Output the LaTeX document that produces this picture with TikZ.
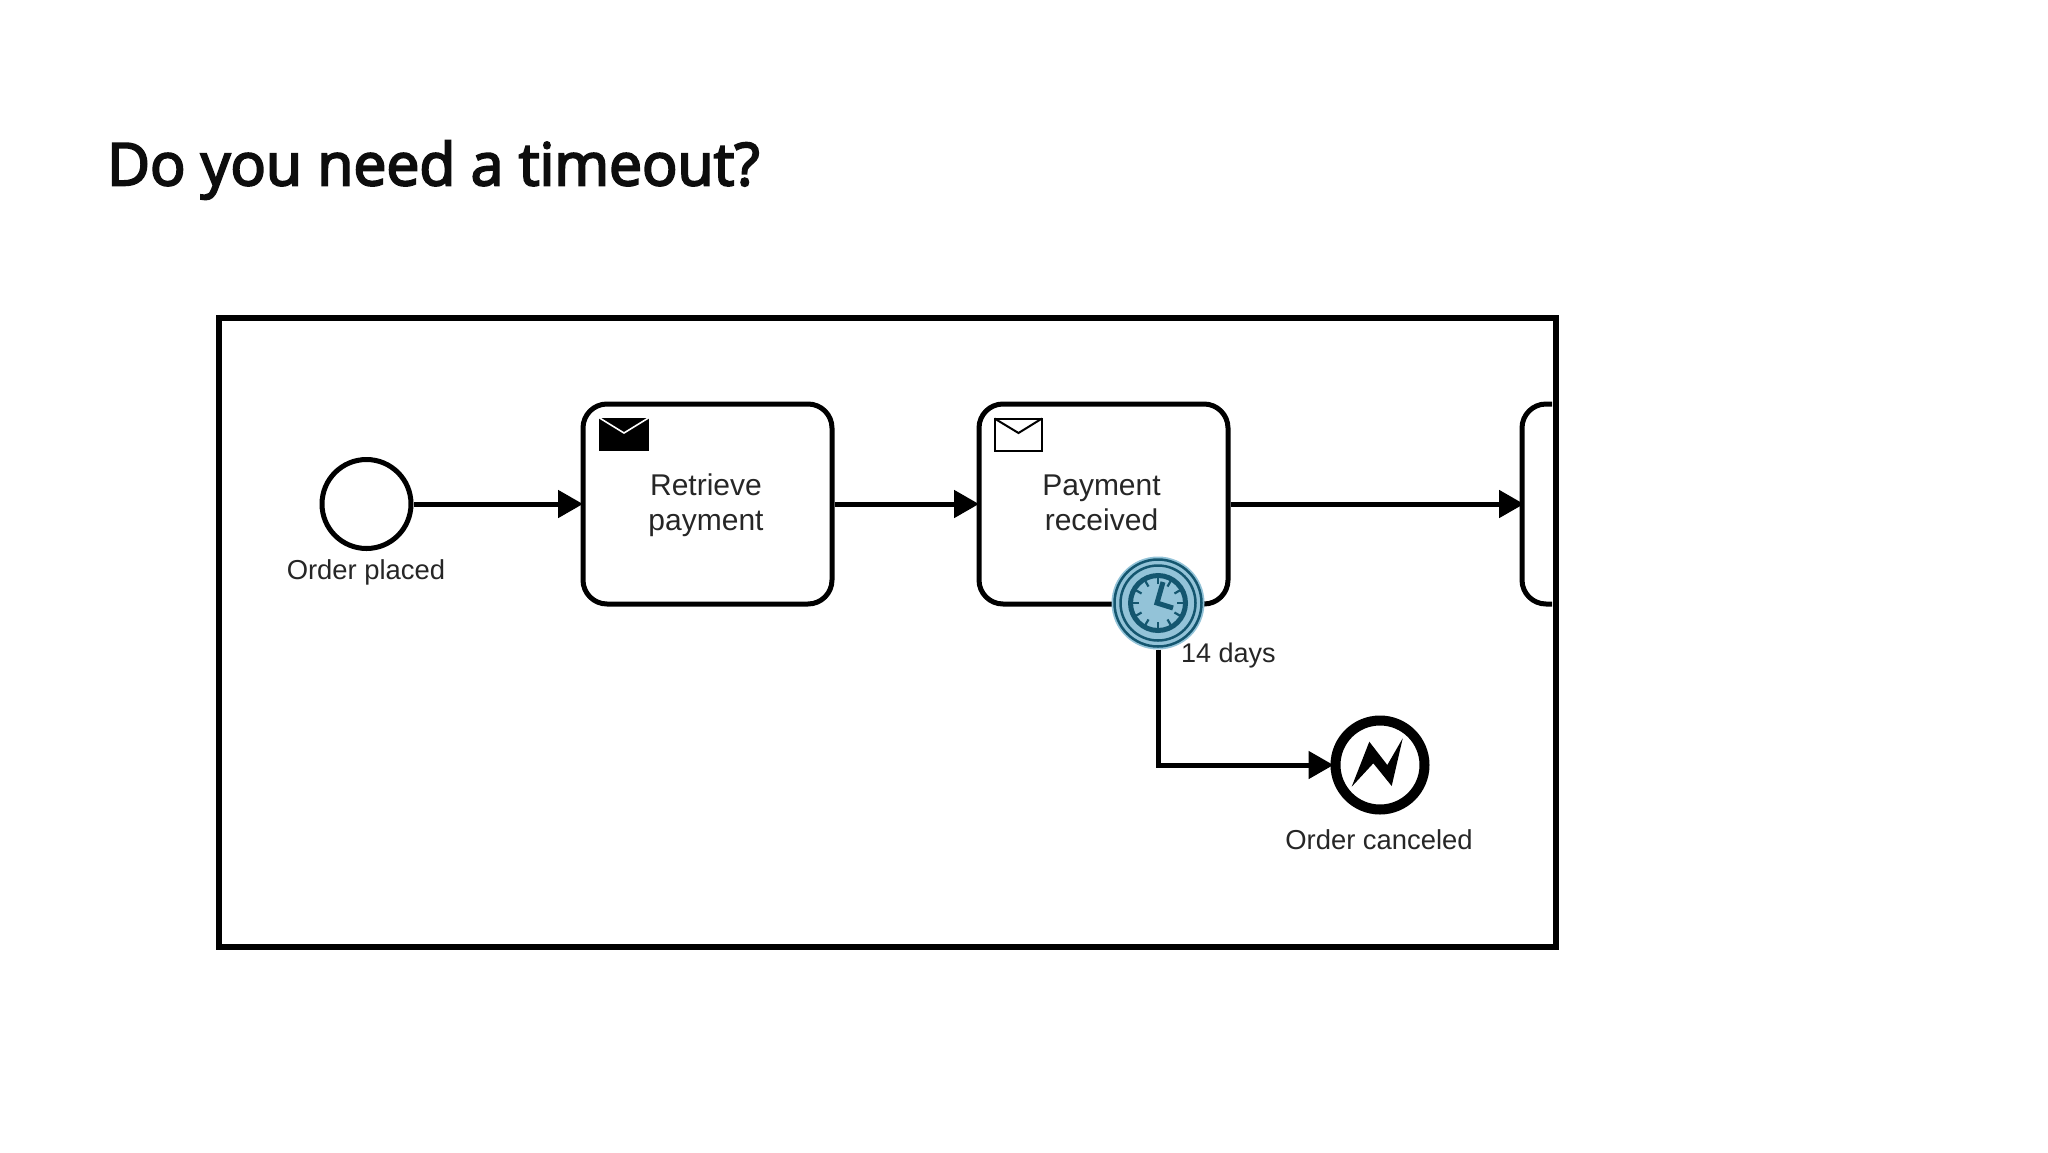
\documentclass[tikz,border=0pt]{standalone}
\usepackage{fontspec}
\setmainfont{Liberation Sans}
\newfontfamily\titlefont[FakeBold=3.5]{Open Sans}
\usetikzlibrary{arrows.meta}
\definecolor{evfill}{HTML}{93C3D8}
\definecolor{evline}{HTML}{14566F}
\definecolor{lbl}{HTML}{262626}
\tikzset{
  x=1pt,y=-1pt,
  taskbox/.style={draw=black,line width=5pt,rounded corners=24pt,fill=white,minimum width=249pt,minimum height=200pt,inner sep=0pt},
  tasklab/.style={align=center,inner sep=0pt,text=lbl,font=\fontsize{30}{35.5}\selectfont},
  flow/.style={draw=black,line width=5pt,-{Triangle[length=25pt,width=27pt]},shorten >=-2.5pt},
  lab/.style={text=lbl,inner sep=0pt,font=\fontsize{27.4}{32}\selectfont},
  tick/.style={draw=evline,line width=2.2pt},
}
\begin{document}
\begin{tikzpicture}
\useasboundingbox (0,0) rectangle (2048,1152);
\fill[white] (0,0) rectangle (2048,1152);
\node[anchor=west,inner sep=0pt,font=\titlefont\fontsize{58.8}{70}\selectfont,text=black!95] (title) at (107,170) {Do you need a timeout?};
\node[draw=black,line width=5.5pt,minimum width=1337pt,minimum height=629pt,inner sep=0pt] (frame) at (887.5,632.5) {};
\node[circle,draw=black,line width=5pt,minimum size=89pt,inner sep=0pt] (start) at (366.5,504) {};
\node[lab] (startlab) at (366,572) {Order placed};
\node[taskbox] (retrieve) at (707.5,504) {};
\node[tasklab] (retrievelab) at (706,505) {\vphantom{Py}Retrieve\\\vphantom{Py}payment};
\node[taskbox] (received) at (1103.5,504) {};
\node[tasklab] (receivedlab) at (1101.5,506) {\vphantom{Py}Payment\\\vphantom{Py}received};
\coordinate (next) at (1522,504);
\draw[line width=5pt,rounded corners=24pt] (1552,404) -- (1522,404) -- (1522,604) -- (1552,604);
% envelopes
\fill[black] (599,418) rectangle (649,451);
\draw[white,line width=1.6pt] (598,417) -- (624,433) -- (650,417);
\draw[black,line width=2pt] (994.5,418.5) rectangle (1042,451);
\draw[black,line width=2pt] (994.5,418.5) -- (1018.5,433) -- (1042,418.5);
% flows
\coordinate (elbow) at (1158,765);
\node[circle,draw=black,line width=10pt,minimum size=89pt,inner sep=0pt] (endev) at (1380,765) {};
\draw[flow] (start) -- (retrieve);
\draw[flow] (retrieve) -- (received);
\draw[flow,shorten >=-2pt] (received) -- (next);
% timer
\node[circle,fill=evfill,minimum size=93pt,inner sep=0pt] (timer) at (1158,603) {};
\draw[line width=5pt,-{Triangle[length=25pt,width=27pt]},shorten >=-3pt] (timer.south) -- (elbow) -- (endev.west);
\draw[evline,line width=2.5pt] (timer.center) circle[radius=43.5];
\draw[evline,line width=2.5pt] (timer.center) circle[radius=37.5];
\draw[evline,line width=5pt] (timer.center) circle[radius=27.5];
\foreach \a in {0,30,...,330} \draw[tick] ([shift={(\a:19)}]timer.center) -- ([shift={(\a:26)}]timer.center);
\draw[evline,line width=5pt] (1163,582) -- (1157,603) -- (1173,608);
\node[lab,anchor=west,font=\fontsize{27}{32}\selectfont] (dayslab) at (1181,656) {14 days};
% end event glyph
\fill[black] (1351.7,786.7) -- (1369.3,741.7) -- (1387.3,765) -- (1402.7,738.3) -- (1391.7,786) -- (1373.3,763.3) -- cycle;
\node[lab] (endlab) at (1379,840) {Order canceled};
\end{tikzpicture}
\end{document}
